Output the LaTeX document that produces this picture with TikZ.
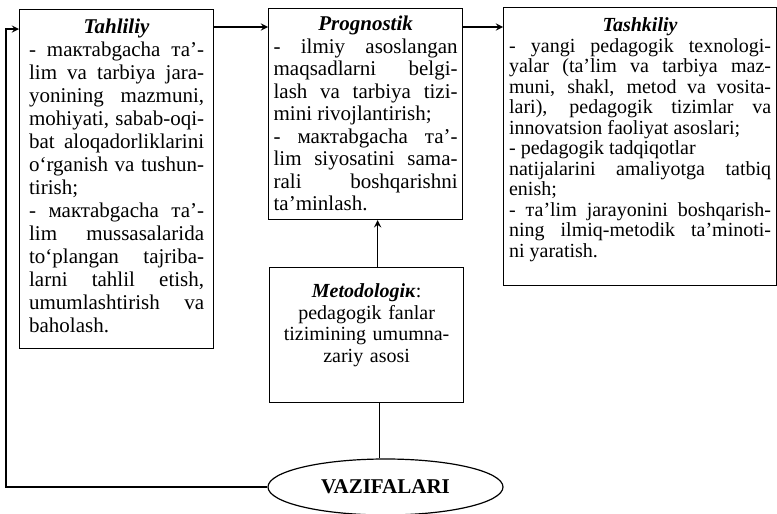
\documentclass[tikz,border=0pt]{standalone}
\usepackage{fontspec}
\setmainfont{Liberation Serif}
\usetikzlibrary{shapes.geometric}
\hyphenpenalty=10000
\exhyphenpenalty=10000
\hbadness=10000
\newcommand{\sarlavha}[1]{{\centering\textbf{\textit{#1}}\par}}
\begin{document}
\begin{tikzpicture}[x=0.5pt,y=-0.5pt,>=stealth,line width=0.6pt,
	blok/.style={draw,anchor=north west,align=justify,inner ysep=3pt},
	vazifa/.style={draw,ellipse,minimum width=117.5pt,minimum height=28pt,inner sep=0pt,font=\fontsize{10.5}{12}\selectfont\bfseries}]
	\useasboundingbox (0,0) rectangle (777,514);
	% Bloklar
	\node[blok,text width=87.5pt,inner xsep=4.75pt,text height=9pt,text depth=154.5pt,font=\fontsize{10.5}{11.5}\selectfont] (tahlil) at (19,9) {\sarlavha{Tahliliy}
		- maктabgacha та’-\linebreak lim va tarbiya jara-\linebreak yonining mazmuni,\linebreak mohiyati, sabab-oqi-\linebreak bat aloqadorliklarini\linebreak o‘rganish va tushun-\linebreak tirish;\par
		- мактabgacha та’-\linebreak lim mussasalarida\linebreak to‘plangan tajriba-\linebreak larni tahlil etish,\linebreak umumlashtirish va\linebreak baholash.};
	\node[blok,text width=92pt,inner xsep=2.5pt,text height=8pt,text depth=91.5pt,font=\fontsize{10.5}{11.25}\selectfont] (prog) at (268,8) {\sarlavha{Prognostik}
		- ilmiy asoslangan\linebreak maqsadlarni belgi-\linebreak lash va tarbiya tizi-\linebreak mini rivojlantirish;\par
		- мактabgacha та’-\linebreak lim siyosatini sama-\linebreak rali boshqarishni\linebreak ta’minlash.};
	\node[blok,text width=131pt,inner xsep=2.75pt,text height=9pt,text depth=124pt,font=\fontsize{10}{10.25}\selectfont] (tashk) at (503,7) {\sarlavha{Tashkiliy}
		- yangi pedagogik texnologi-\linebreak yalar (ta’lim va tarbiya maz-\linebreak muni, shakl, metod va vosita-\linebreak lari), pedagogik tizimlar va\linebreak innovatsion faoliyat asoslari;\par
		- pedagogik tadqiqotlar\newline natijalarini amaliyotga tatbiq\linebreak enish;\par
		- та’lim jarayonini boshqarish-\linebreak ning ilmiq-metodik ta’minoti-\linebreak ni yaratish.};
	\node[blok,align=center,text width=91pt,inner xsep=3pt,text height=12pt,text depth=49.5pt,font=\fontsize{10}{10.75}\selectfont] (metod) at (269,267) {\textbf{\textit{Metodologiк}}:\\ pedagogik fanlar\\ tizimining umumna-\\ zariy asosi};
	\node[vazifa] (vaz) at (385.5,487) {VAZIFALARI};
	% Strelkalar
	\draw[->] ([yshift=-9pt]tahlil.north east) -- ([yshift=-9pt]tahlil.north east -| prog.west);
	\draw[->] ([yshift=-9.5pt]prog.north east) -- ([yshift=-9.5pt]prog.north east -| tashk.west);
	\draw[->] ([xshift=5.5pt]metod.north) -- ([xshift=5.5pt]metod.north |- prog.south);
	\draw ([xshift=6.5pt]metod.south) -- ([xshift=6.5pt]metod.south |- vaz.north);
	\draw[->] (vaz.west) -| ([xshift=-6.5pt,yshift=-10pt]tahlil.north west) -- ([yshift=-10pt]tahlil.north west);
\end{tikzpicture}
\end{document}
